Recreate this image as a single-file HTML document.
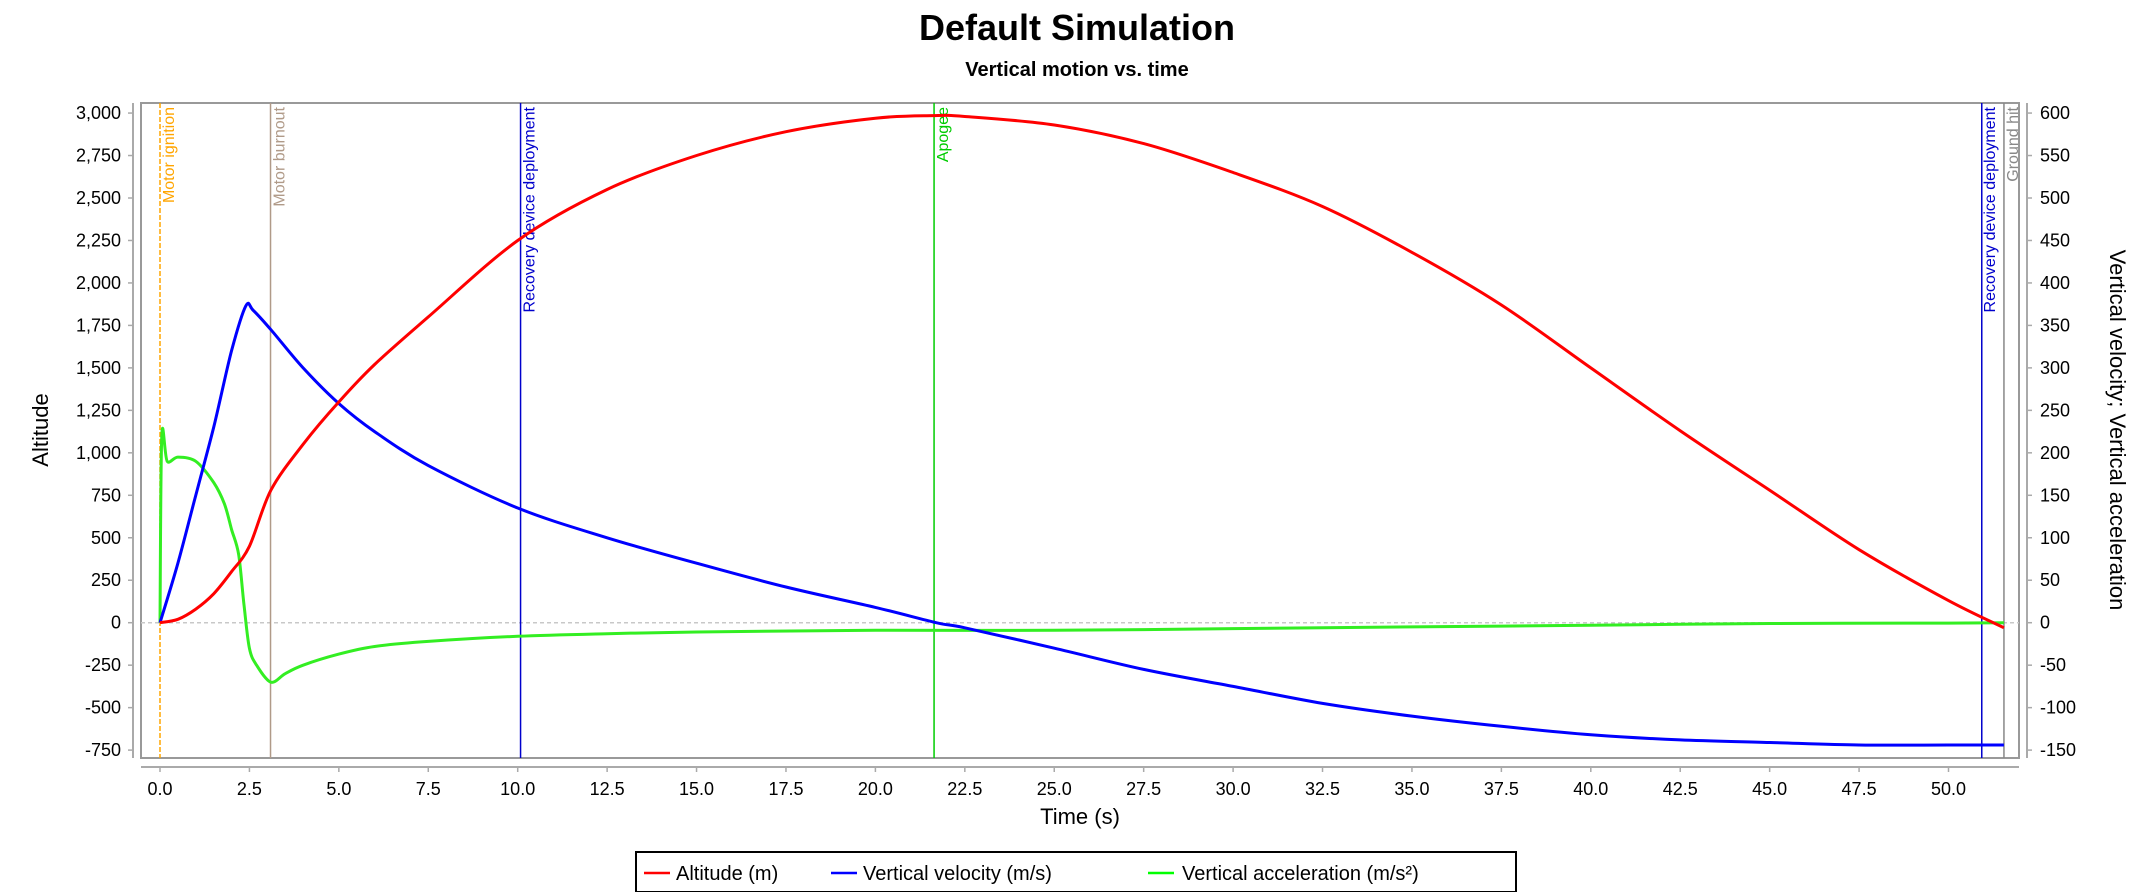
<!DOCTYPE html>
<html><head><meta charset="utf-8"><style>
html,body{margin:0;padding:0;background:#fff;}
svg{display:block;font-family:"Liberation Sans","DejaVu Sans",sans-serif;}
</style></head><body>
<svg id="chart" width="2154" height="892" viewBox="0 0 2154 892" xmlns="http://www.w3.org/2000/svg">
<text x="1077" y="40" text-anchor="middle" font-size="36" font-weight="bold">Default Simulation</text>
<text x="1077" y="76" text-anchor="middle" font-size="20" font-weight="bold">Vertical motion vs. time</text>
<g id="plot"></g>
<text x="1080" y="824" text-anchor="middle" font-size="22">Time (s)</text>
<text transform="translate(48,430) rotate(-90)" text-anchor="middle" font-size="22">Altitude</text>
<text transform="translate(2110,430) rotate(90)" text-anchor="middle" font-size="22">Vertical velocity; Vertical acceleration</text>
<g>
<rect x="636" y="852" width="880" height="40" fill="#fff" stroke="#000" stroke-width="2"/>
<g><line x1="644" y1="873" x2="670" y2="873" stroke="#ff0000" stroke-width="2.5"/><text x="676" y="880" font-size="20">Altitude (m)</text></g>
<g><line x1="831" y1="873" x2="857" y2="873" stroke="#0000ff" stroke-width="2.5"/><text x="863" y="880" font-size="20">Vertical velocity (m/s)</text></g>
<g><line x1="1148" y1="873" x2="1174" y2="873" stroke="#00ff00" stroke-width="2.5"/><text x="1182" y="880" font-size="20">Vertical acceleration (m/s²)</text></g>
</g>
</svg>
<script>
const xTicks=[0,2.5,5,7.5,10,12.5,15,17.5,20,22.5,25,27.5,30,32.5,35,37.5,40,42.5,45,47.5,50];
const leftTicks=[-750,-500,-250,0,250,500,750,1000,1250,1500,1750,2000,2250,2500,2750,3000];
const rightTicks=[-150,-100,-50,0,50,100,150,200,250,300,350,400,450,500,550,600];
const altT=[0,0.5,1,1.5,2,2.5,3.1,4,5,6,7.5,10,12.5,15,17.5,20,21.6,22.5,25,27.5,30,32.5,35,37.5,40,42.5,45,47.5,50,51.55];
const altV=[0,20,80,170,300,450,780,1050,1300,1520,1800,2250,2550,2750,2890,2970,2985,2980,2930,2820,2650,2450,2180,1870,1500,1130,780,430,130,-30];
const velT=[0,0.5,1,1.5,2,2.4,2.6,3.1,4,5,6,7.5,10,12.5,15,17.5,20,21.7,22.5,25,27.5,30,32.5,35,37.5,40,42.5,45,47.5,50,51.55];
const velV=[0,70,150,230,320,373,368,345,300,258,225,185,135,100,70,42,18,0,-6,-30,-55,-75,-95,-110,-122,-132,-138,-141,-144,-144,-144];
const accT=[0,0.05,0.2,0.5,1,1.5,1.8,2,2.2,2.35,2.5,2.7,3.1,3.5,4,5,6,7.5,10,12.5,15,20,25,30,35,40,45,50,51.55];
const accV=[0,220,190,195,190,165,140,110,80,20,-30,-50,-70,-60,-50,-37,-28,-22,-16,-13,-11,-9,-9,-7,-5,-3,-1,-0.5,0];
const evNames=["Motor ignition","Motor burnout","Recovery device deployment","Apogee","Recovery device deployment","Ground hit"];
const evTimes=[0,3.09,10.08,21.64,50.93,51.55];
const evColors=["#ffa500","#b09a88","#0000cc","#00cc00","#0000cc","#888888"];

const NS="http://www.w3.org/2000/svg";
const PL=141,PR=2019,PT=103,PB=758;
const X0=160,XS=35.77;
const Y0=622.7,YS=42.47/250;
function xs(t){return X0+t*XS;}
function yl(v){return Y0-v*YS;}
function yr(v){return Y0-v*5*YS;}
const plot=document.getElementById('plot');
const svg=document.getElementById('chart');
function mk(tag,attrs,parent){const e=document.createElementNS(NS,tag);for(const k in attrs)e.setAttribute(k,attrs[k]);(parent||plot).appendChild(e);return e;}

let r=mk('rect',{x:PL,y:PT,width:PR-PL,height:PB-PT,fill:'#fff',stroke:'#999','stroke-width':2});


let z=mk('line',{x1:PL,x2:PR,y1:yl(0),y2:yl(0),stroke:'#c8c8c8','stroke-width':1.5,'stroke-dasharray':'4,3'});



let xa=mk('line',{x1:PL,x2:PR,y1:767,y2:767,stroke:'#aaa','stroke-width':2},svg);


xTicks.forEach(t=>{
  mk('line',{x1:xs(t),x2:xs(t),y1:767,y2:772,stroke:'#aaa','stroke-width':1.5},svg);
  const tx=mk('text',{x:xs(t),y:795,'text-anchor':'middle','font-size':18},svg);
  tx.textContent=t.toFixed(1);
  
  
});
let la=mk('line',{x1:133,x2:133,y1:PT,y2:PB,stroke:'#aaa','stroke-width':2},svg);


leftTicks.forEach(v=>{
  mk('line',{x1:128,x2:133,y1:yl(v),y2:yl(v),stroke:'#aaa','stroke-width':1.5},svg);
  const tx=mk('text',{x:121,y:yl(v)+6,'text-anchor':'end','font-size':18},svg);
  tx.textContent=v.toLocaleString('en-US');
  
  
});
let ra=mk('line',{x1:2027,x2:2027,y1:PT,y2:PB,stroke:'#aaa','stroke-width':2},svg);


rightTicks.forEach(v=>{
  mk('line',{x1:2027,x2:2032,y1:yr(v),y2:yr(v),stroke:'#aaa','stroke-width':1.5},svg);
  const tx=mk('text',{x:2040,y:yr(v)+6,'text-anchor':'start','font-size':18},svg);
  tx.textContent=String(v);
  
  
});

evTimes.forEach((t,i)=>{
  const x=xs(t);
  const ln=mk('line',{x1:x,x2:x,y1:PT,y2:PB,stroke:evColors[i],'stroke-width':1.5});
  if(i===0)ln.setAttribute('stroke-dasharray','5,2');
  
  
  const off=(i===4)?13:14;
  const tx=mk('text',{transform:`translate(${x+off},${PT+4}) rotate(-90)`,'text-anchor':'end','font-size':16,fill:evColors[i]});
  tx.textContent=evNames[i];
  
  
});

function series(T,V,yf,color,name){
  const P=T.map((t,i)=>[xs(t),yf(V[i])]);
  let d='M'+P[0][0].toFixed(1)+','+P[0][1].toFixed(1);
  for(let i=0;i<P.length-1;i++){
    const p0=P[Math.max(0,i-1)],p1=P[i],p2=P[i+1],p3=P[Math.min(P.length-1,i+2)];
    const k=0.16;
    const c1=[p1[0]+(p2[0]-p0[0])*k,p1[1]+(p2[1]-p0[1])*k];
    const c2=[p2[0]-(p3[0]-p1[0])*k,p2[1]-(p3[1]-p1[1])*k];
    d+=' C'+c1[0].toFixed(1)+','+c1[1].toFixed(1)+' '+c2[0].toFixed(1)+','+c2[1].toFixed(1)+' '+p2[0].toFixed(1)+','+p2[1].toFixed(1);
  }
  const p=mk('path',{d:d,fill:'none',stroke:color,'stroke-width':3,'stroke-linejoin':'round'});
  
  
}
series(accT,accV,yr,'#33ee22','vertical-acceleration-line');
series(velT,velV,yr,'#0000ff','vertical-velocity-line');
series(altT,altV,yl,'#ff0000','altitude-line');
</script>
</body></html>
